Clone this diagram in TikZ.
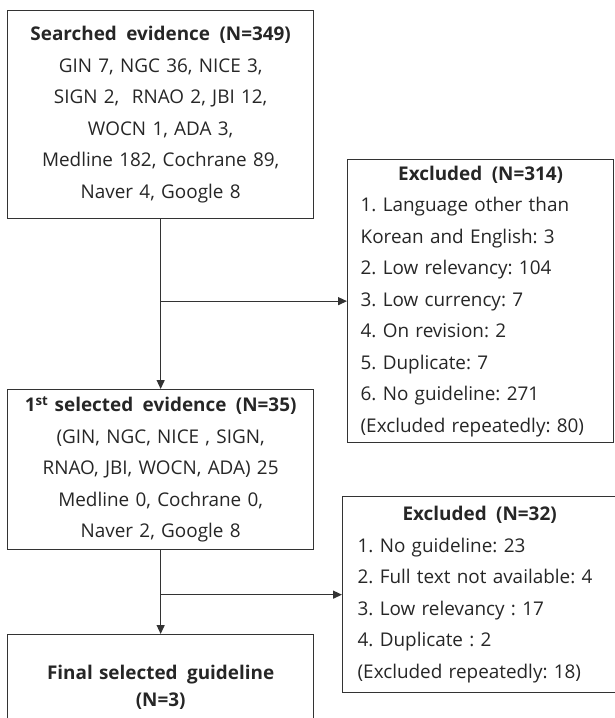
\documentclass[tikz,border=0pt]{standalone}
\usepackage{fontspec}
\setmainfont{Open Sans}
\frenchspacing
\usetikzlibrary{arrows.meta, positioning, calc}
\definecolor{flowline}{HTML}{333333}
\definecolor{flowtext}{HTML}{262626}

\begin{document}
\begin{tikzpicture}[
  x=1pt, y=-1pt,
  font=\fontsize{18.9}{31.5}\selectfont,
  mainbox/.style={
    rectangle, draw=flowline, line width=1.3pt, text=flowtext,
    text width=296pt, inner xsep=5pt, inner ysep=0pt, align=center, anchor=north west
  },
  exbox/.style={
    rectangle, draw=flowline, line width=1.3pt, text=flowtext,
    inner ysep=0pt, align=left, anchor=north west
  },
  arr/.style={-{Triangle[length=9pt, width=8pt]}, flowline, line width=1.3pt},
]
\useasboundingbox (0,0) rectangle (614,718);

% Left column: search -> 1st selection -> final
\node[mainbox, minimum height=208pt] (search) at (7,10) {\textbf{Searched\ \,evidence\ \,(N=349)}\\
  GIN 7, NGC 36, NICE 3,\\
  SIGN 2,~~RNAO 2, JBI 12,\\
  WOCN 1, ADA 3,\\
  Medline 182, Cochrane 89,\\
  Naver 4, Google 8};
\node[mainbox, minimum height=160pt] (sel1) at (7,389) {\textbf{1\textsuperscript{st} selected\ \,evidence\ \,(N=35)}\\
  (GIN, NGC, NICE , SIGN,\\
  RNAO, JBI, WOCN, ADA) 25\\
  Medline 0, Cochrane 0,\\
  Naver 2, Google 8};
\node[mainbox, minimum height=106pt] (final) at (7,634) {\textbf{Final selected\ \,guideline}\\[-4.5pt]
  \textbf{(N=3)}};

% Right column: exclusions
\node[exbox, text width=240pt, inner xsep=13pt, minimum height=283pt] (ex1) at (347,159) {\makebox[\linewidth]{\textbf{Excluded\ \,(N=314)}}\\
  1. Language other than\\
  Korean and English: 3\\
  2. Low relevancy: 104\\
  3. Low currency: 7\\
  4. On revision: 2\\
  5. Duplicate: 7\\
  6. No guideline: 271\\
  (Excluded repeatedly: 80)};
\node[exbox, text width=250pt, inner xsep=15pt, minimum height=196pt] (ex2) at (342,496) {\makebox[244pt]{\textbf{Excluded\ \,(N=32)}}\\
  1. No guideline: 23\\
  2. Full text not available: 4\\
  3. Low relevancy : 17\\
  4. Duplicate : 2\\
  (Excluded repeatedly: 18)};

% Arrows
\draw[arr] (search) -- (sel1);
\draw[arr] (search.south |- ex1.west) -- (ex1.west);
\draw[arr] (sel1) -- (final);
\draw[arr] (sel1.south |- ex2.west) -- (ex2.west);
\end{tikzpicture}
\end{document}
